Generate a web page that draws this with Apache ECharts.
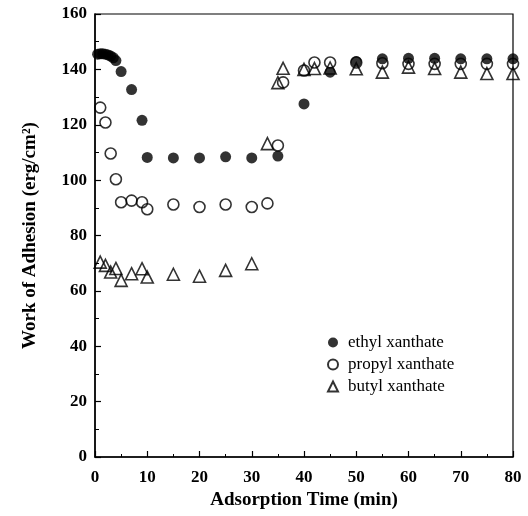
<!DOCTYPE html>
<html>
<head>
<meta charset="utf-8">
<script src="https://cdn.jsdelivr.net/npm/echarts@6/dist/echarts.min.js"></script>
<style>
  html, body { margin: 0; padding: 0; background: #fff; }
  #chart { width: 528px; height: 516px; }
</style>
</head>
<body>
<div id="chart"></div>
<script>
// values
var ethylTime = [0.5, 1, 1.5, 2, 2.5, 3, 3.5, 4, 5, 7, 9, 10, 15, 20, 25, 30, 35, 40, 45, 50, 55, 60, 65, 70, 75, 80];
var ethylWork = [145.5, 145.6, 145.6, 145.5, 145.2, 144.8, 144.2, 143.2, 139.2, 132.7, 121.6, 108.2, 108, 108, 108.4, 108, 108.7, 127.5, 139, 142.8, 143.8, 144, 144, 143.8, 143.8, 143.8];

var propylTime = [1, 2, 3, 4, 5, 7, 9, 10, 15, 20, 25, 30, 33, 35, 36, 40, 42, 45, 50, 55, 60, 65, 70, 75, 80];
var propylWork = [126.2, 120.8, 109.6, 100.3, 92, 92.6, 92, 89.5, 91.2, 90.3, 91.2, 90.3, 91.6, 112.5, 135.3, 139.6, 142.5, 142.5, 142.5, 142.2, 142, 142, 142, 142, 142];

var butylTime = [1, 2, 3, 4, 5, 7, 9, 10, 15, 20, 25, 30, 33, 35, 36, 40, 42, 45, 50, 55, 60, 65, 70, 75, 80];
var butylWork = [70.4, 69.2, 66.8, 68.1, 63.8, 66.2, 68, 65, 66, 65.3, 67.4, 69.8, 113.2, 135.2, 140.4, 140, 140.3, 140.5, 140.2, 139, 140.8, 140.3, 139, 138.5, 138.5];

var xTicks = [0, 10, 20, 30, 40, 50, 60, 70, 80];
var yTicks = [0, 20, 40, 60, 80, 100, 120, 140, 160];

function pairs(xs, ys) {
    var out = [];
    for (var i = 0; i < xs.length; i++) out.push([xs[i], ys[i]]);
    return out;
}

var chart = echarts.init(document.getElementById('chart'));
var serif = '"Liberation Serif", "DejaVu Serif", serif';

option = {
    animation: false,
    backgroundColor: '#fff',
    grid: {
        left: 95,
        right: 15,
        top: 14,
        bottom: 59,
        show: true,
        borderColor: '#000',
        borderWidth: 1.2
    },
    legend: {
        orient: 'vertical',
        left: 322,
        top: 329,
        itemWidth: 10,
        itemHeight: 10,
        itemGap: 5,
        textStyle: { fontFamily: serif, fontSize: 17, color: '#000', padding: [0, 0, 0, 5] },
        data: ['ethyl xanthate', 'propyl xanthate', 'butyl xanthate']
    },
    xAxis: {
        type: 'value',
        min: xTicks[0],
        max: xTicks[xTicks.length - 1],
        interval: 10,
        name: 'Adsorption Time (min)',
        nameLocation: 'middle',
        nameGap: 30,
        nameTextStyle: { fontFamily: serif, fontWeight: 'bold', fontSize: 19, color: '#000' },
        axisLine: { lineStyle: { color: '#000', width: 1.5 } },
        axisTick: { inside: true, length: 6, lineStyle: { color: '#000', width: 1.2 } },
        minorTick: { show: true, splitNumber: 2, length: 3, lineStyle: { color: '#000', width: 1 } },
        splitLine: { show: false },
        axisLabel: { fontFamily: serif, fontWeight: 'bold', fontSize: 17, color: '#000', margin: 12 }
    },
    yAxis: {
        type: 'value',
        min: yTicks[0],
        max: yTicks[yTicks.length - 1],
        interval: 20,
        name: 'Work of Adhesion (erg/cm\u00B2)',
        nameLocation: 'middle',
        nameGap: 55,
        nameTextStyle: { fontFamily: serif, fontWeight: 'bold', fontSize: 19, color: '#000' },
        axisLine: { lineStyle: { color: '#000', width: 1.5 } },
        axisTick: { inside: true, length: 6, lineStyle: { color: '#000', width: 1.2 } },
        minorTick: { show: true, splitNumber: 2, length: 4, lineStyle: { color: '#000', width: 1 } },
        splitLine: { show: false },
        axisLabel: { fontFamily: serif, fontWeight: 'bold', fontSize: 17, color: '#000', margin: 8 }
    },
    series: [
        {
            name: 'ethyl xanthate',
            type: 'scatter',
            symbol: 'circle',
            symbolSize: 11,
            itemStyle: { color: '#000' },
            data: pairs(ethylTime, ethylWork)
        },
        {
            name: 'propyl xanthate',
            type: 'scatter',
            symbol: 'circle',
            symbolSize: 11,
            itemStyle: { color: 'rgba(255,255,255,0)', borderColor: '#000', borderWidth: 1.6 },
            data: pairs(propylTime, propylWork)
        },
        {
            name: 'butyl xanthate',
            type: 'scatter',
            symbol: 'triangle',
            symbolSize: 12,
            itemStyle: { color: 'rgba(255,255,255,0)', borderColor: '#000', borderWidth: 1.6 },
            data: pairs(butylTime, butylWork)
        }
    ]
};
chart.setOption(option);
</script>
</body>
</html>
